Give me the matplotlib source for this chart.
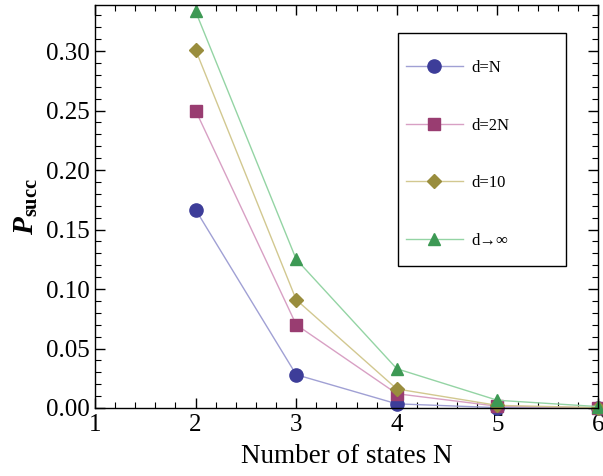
import matplotlib
matplotlib.use("Agg")
import matplotlib.pyplot as plt
from matplotlib.ticker import MultipleLocator, FormatStrFormatter
from matplotlib.patches import Rectangle

N = [2, 3, 4, 5, 6]
p_dN = [0.1667, 0.028, 0.0035, 0.0003, 0.00002]
p_d2N = [0.25, 0.070, 0.012, 0.0015, 0.0002]
p_d10 = [0.301, 0.091, 0.016, 0.0022, 0.0003]
p_dinf = [0.3333, 0.125, 0.033, 0.0065, 0.0012]
labels = ["d=N", "d=2N", "d=10", "d\u2192\u221e"]

plt.rcParams['font.family'] = ['Liberation Serif', 'DejaVu Serif']
plt.rcParams['mathtext.fontset'] = 'custom'
plt.rcParams['mathtext.rm'] = 'Liberation Serif'
plt.rcParams['mathtext.it'] = 'Liberation Serif:italic'
plt.rcParams['mathtext.bf'] = 'Liberation Serif:bold'
plt.rcParams['mathtext.bfit'] = 'Liberation Serif:bold:italic'

fig = plt.figure(figsize=(6.03, 4.76), dpi=100)
ax = fig.add_axes([95/603, 1-408/476, (598-95)/603, (408-5)/476])

series = [
    (p_dN, 'o', '#3D3D99', '#A0A0D4', 9.5),
    (p_d2N, 's', '#993D71', '#D8A0C4', 8),
    (p_d10, 'D', '#998D3D', '#D2C890', 7.5),
    (p_dinf, '^', '#3D9954', '#94D4A4', 8.5),
]
for (vals, m, mc, lc, ms), lab in zip(series, labels):
    ax.plot(N, vals, color=lc, lw=1.0, marker=m, ms=ms, mfc=mc, mec=mc,
            label=lab, clip_on=False)

ax.set_xlim(1, 6)
ax.set_ylim(0, 0.3387)
ax.xaxis.set_major_locator(MultipleLocator(1))
ax.xaxis.set_minor_locator(MultipleLocator(0.2))
ax.yaxis.set_major_locator(MultipleLocator(0.05))
ax.yaxis.set_minor_locator(MultipleLocator(0.01))
ax.yaxis.set_major_formatter(FormatStrFormatter('%.2f'))
ax.tick_params(which='both', direction='in', top=True, right=True, labelsize=18)
ax.tick_params(which='major', length=7, width=1, pad=4)
ax.tick_params(which='minor', length=4, width=0.8)
for s in ax.spines.values():
    s.set_linewidth(1.0)

ax.set_xlabel("Number of states N", fontsize=19.5, labelpad=6)
ax.set_ylabel(r'$\mathbfit{P}_{\mathbf{succ}}$', fontsize=21, labelpad=4)

# legend frame drawn separately to match the reference box
fig.patches.append(Rectangle((398/603, 1-266/476), 168/603, 233/476,
                             transform=fig.transFigure, fill=True,
                             facecolor='white', edgecolor='black', lw=1.0,
                             zorder=3))
leg = fig.legend(loc='upper left', bbox_to_anchor=(406/603, 1-60/476),
                 frameon=False, fontsize=12, labelspacing=2.5,
                 handlelength=3.4, borderpad=0, handletextpad=0.5,
                 borderaxespad=0)
leg.set_zorder(4)

fig.savefig("out.png", dpi=100)
